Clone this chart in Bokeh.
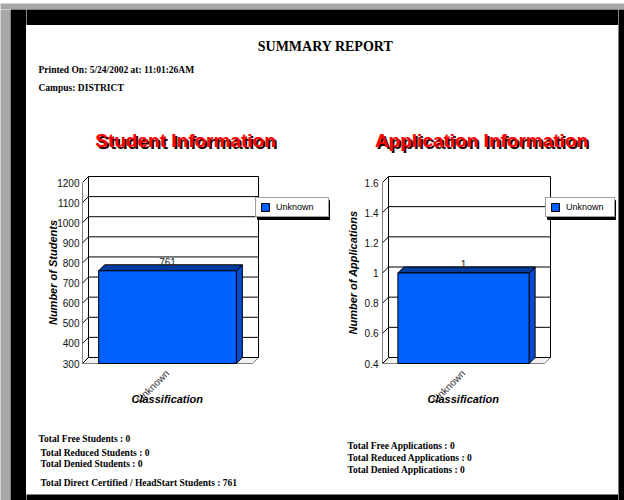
import math
from bokeh.plotting import figure
from bokeh.layouts import row, column
from bokeh.models import Range1d, FixedTicker, Legend, LegendItem, Title
from bokeh.core.properties import value
from bokeh.embed import file_html
from bokeh.resources import INLINE

# ---------------- data ----------------
report_title = "SUMMARY REPORT"
printed_line = "Printed On: 5/24/2002 at:  11:01:26AM"
campus_line = "Campus:  DISTRICT"

categories = ["Unknown"]
student_values = [761]
application_values = [1]

student_ticks = [300, 400, 500, 600, 700, 800, 900, 1000, 1100, 1200]
student_tick_labels = ["300", "400", "500", "600", "700", "800", "900", "1000", "1100", "1200"]
application_ticks = [0.4, 0.6, 0.8, 1.0, 1.2, 1.4, 1.6]
application_tick_labels = ["0.4", "0.6", "0.8", "1", "1.2", "1.4", "1.6"]

student_title = "Student Information"
application_title = "Application Information"
student_axis_title = "Number of Students"
application_axis_title = "Number of Applications"
category_axis_title = "Classification"

student_totals = [
    "Total Free Students :  0",
    "Total Reduced Students :  0",
    "Total Denied Students :  0",
    "Total Direct Certified / HeadStart Students :  761",
]
application_totals = [
    "Total Free Applications :  0",
    "Total Reduced Applications :  0",
    "Total Denied Applications :  0",
]

# ---------------- styles ----------------
SANS = "Liberation Sans"
SERIF = "Liberation Serif"
GRAY_BG = "#a8a8a8"
BAR_FRONT = "#0061ff"
BAR_TOP = "#003c9e"
BAR_SIDE = "#004bd0"
SMALL = 9.5


def blank(width, height, fill):
    p = figure(width=width, height=height, x_range=Range1d(0, width), y_range=Range1d(height, 0),
               toolbar_location=None, output_backend="svg", x_axis_type=None, y_axis_type=None,
               min_border=0, outline_line_color=None, background_fill_color=fill,
               border_fill_color=fill)
    return p


def put_text(p, x, y, text, size, font, color="black", style="bold", align="left"):
    p.text(x=[x], y=[y], text=[text], text_font=value(font), text_font_size=f"{size}px",
           text_font_style=style, text_color=color, text_align=align, text_baseline="middle")


def bar_chart(width, height, frame, plane_px, ticks, tick_labels, values, y_title,
              legend_xy, label_width, tick_standoff, title_standoff, class_offset):
    left, top, bottom = frame                   # frame box in local pixels (right = width)
    right = width
    tick_span_px = 181                          # first to last tick, pixels
    pad_bottom_px, pad_top_px, depth_px = 6, 7, 6
    upp = (ticks[-1] - ticks[0]) / tick_span_px
    y_start = ticks[0] - pad_bottom_px * upp
    y_end = ticks[-1] + pad_top_px * upp
    n = len(categories)
    xpp = n / plane_px
    x_start = -0.5
    x_end = x_start + (right - left) * xpp
    dx = depth_px * xpp
    dy = depth_px * upp

    p = figure(width=width, height=height, x_range=Range1d(x_start, x_end),
               y_range=Range1d(y_start, y_end), toolbar_location=None, output_backend="svg",
               min_border_left=left, min_border_right=0, min_border_top=top,
               min_border_bottom=height - bottom, outline_line_color=None,
               background_fill_color="white", border_fill_color="white")
    p.grid.visible = False

    base, topv = ticks[0], ticks[-1]
    xl, xr = -0.5, n - 0.5

    # floor
    p.patch([xl, xr, xr + dx, xl + dx], [base, base, base + dy, base + dy],
            fill_color="#f2f2f2", line_color="#808080", line_width=1)
    # back wall grid + left wall slants + edges
    xs, ys = [], []
    for t in ticks:
        xs.append([xl + dx, xr + dx]); ys.append([t + dy, t + dy])
        xs.append([xl, xl + dx]); ys.append([t, t + dy])
    xs += [[xl, xl], [xl + dx, xl + dx], [xr + dx, xr + dx]]
    ys += [[base, topv], [base + dy, topv + dy], [base + dy, topv + dy]]
    p.multi_line(xs, ys, line_color="black", line_width=1)

    # bars (3D)
    w = 0.81
    idx = list(range(n))
    x0 = [i - w / 2 for i in idx]
    x1 = [i + w / 2 for i in idx]
    p.patches([[a, a + dx, a + dx, a] for a in x1],
              [[base, base + dy, v + dy, v] for v in values],
              fill_color=BAR_SIDE, line_color="black", line_width=1)
    p.patches([[a, a + dx, b + dx, b] for a, b in zip(x0, x1)],
              [[v, v + dy, v + dy, v] for v in values],
              fill_color=BAR_TOP, line_color="black", line_width=1)
    front = p.vbar(x=idx, top=values, bottom=base, width=w, fill_color=BAR_FRONT,
                   line_color="black", line_width=1)
    p.text(x=idx, y=[v + dy for v in values], text=[str(v) for v in values],
           text_font=value(SANS), text_font_size="10px", text_color="#222222",
           text_align="center", text_baseline="middle", y_offset=-3)

    # legend with a drop shadow (shadow box drawn from the legend's pixel box)
    lx, ly = legend_xy
    pad, gw, lso, lh = 4, 10, 6, 11
    lw_px = 2 * pad + gw + lso + label_width
    lh_px = 2 * pad + lh
    p.quad(left=[x_start + (lx + 2) * xpp], right=[x_start + (lx + 2 + lw_px) * xpp],
           bottom=[y_start + (ly - 2) * upp], top=[y_start + (ly - 2 + lh_px) * upp],
           fill_color="black", line_color="black")
    lg = Legend(items=[LegendItem(label=categories[0], renderers=[front])], location=(lx, ly),
                background_fill_color="white", background_fill_alpha=1.0,
                border_line_color="#404040", border_line_width=1, margin=0, padding=pad,
                spacing=0, glyph_width=gw, glyph_height=gw, label_standoff=lso,
                label_width=label_width, label_height=10, label_text_font=SANS,
                label_text_font_size="9px", label_text_color="black")
    p.add_layout(lg, "center")

    # axes
    ya = p.yaxis[0]
    ya.ticker = FixedTicker(ticks=ticks)
    ya.major_label_overrides = dict(zip(ticks, tick_labels))
    ya.axis_line_color = None
    ya.major_tick_line_color = None
    ya.minor_tick_line_color = None
    ya.major_tick_out = 0
    ya.major_tick_in = 0
    ya.major_label_standoff = tick_standoff
    ya.major_label_text_font = SANS
    ya.major_label_text_font_size = "10px"
    ya.major_label_text_color = "#111111"
    ya.axis_label = y_title
    ya.axis_label_text_font = SANS
    ya.axis_label_text_font_style = "bold italic"
    ya.axis_label_text_font_size = "11px"
    ya.axis_label_text_color = "black"
    ya.axis_label_standoff = title_standoff

    xa = p.xaxis[0]
    xa.ticker = FixedTicker(ticks=idx)
    xa.major_label_overrides = {i: c for i, c in zip(idx, categories)}
    xa.major_label_orientation = math.pi / 4
    xa.axis_line_color = None
    xa.major_tick_line_color = None
    xa.minor_tick_line_color = None
    xa.major_tick_out = 0
    xa.major_tick_in = 0
    xa.major_label_standoff = 2
    xa.major_label_text_font = SANS
    xa.major_label_text_font_size = "10px"
    xa.major_label_text_color = "#333333"

    # category axis title, centred under the front plane of the chart
    p.add_layout(Title(text=category_axis_title, align="left", offset=class_offset,
                       vertical_align="top", standoff=-38, text_font=SANS,
                       text_font_size="11px", text_font_style="bold italic",
                       text_color="black"), "below")
    return p


# ---------------- page pieces ----------------
gray_top = blank(624, 9, GRAY_BG)
gray_left = blank(10, 491, GRAY_BG)
black_left = blank(16, 491, "black")
black_right = blank(6, 491, "black")
black_top = blank(592, 16, "black")
black_bottom = blank(592, 9, "black")

header = blank(592, 140, "white")
put_text(header, 299, 20.5, report_title, 14, SERIF, align="center")
put_text(header, 12, 44, printed_line, SMALL, SERIF)
put_text(header, 12, 62, campus_line, SMALL, SERIF)
for cx, t in [(159, student_title), (455, application_title)]:
    put_text(header, cx + 2, 116.5, t, 19, SANS, color="#2a0000", align="center")
    put_text(header, cx, 114.5, t, 19, SANS, color="#ff0000", align="center")

chart1 = bar_chart(304, 260, (56, 10, 204), 170, student_ticks, student_tick_labels,
                   student_values, student_axis_title, (173, 152), 48, 3, -5, 49)
chart2 = bar_chart(288, 260, (52, 10, 204), 162, application_ticks, application_tick_labels,
                   application_values, application_axis_title, (163, 152), 44, 4, 3, 45)

footer = blank(592, 66, "white")
for (x, y), t in zip([(12, 13), (14, 27), (14, 38), (14, 57)], student_totals):
    put_text(footer, x, y, t, SMALL, SERIF)
for (x, y), t in zip([(321, 20), (321, 32), (321, 44)], application_totals):
    put_text(footer, x, y, t, SMALL, SERIF)

page = column(black_top, header, row(chart1, chart2), footer, black_bottom)
root = column(gray_top, row(gray_left, black_left, page, black_right))

open("out.html", "w").write(file_html(root, INLINE))
